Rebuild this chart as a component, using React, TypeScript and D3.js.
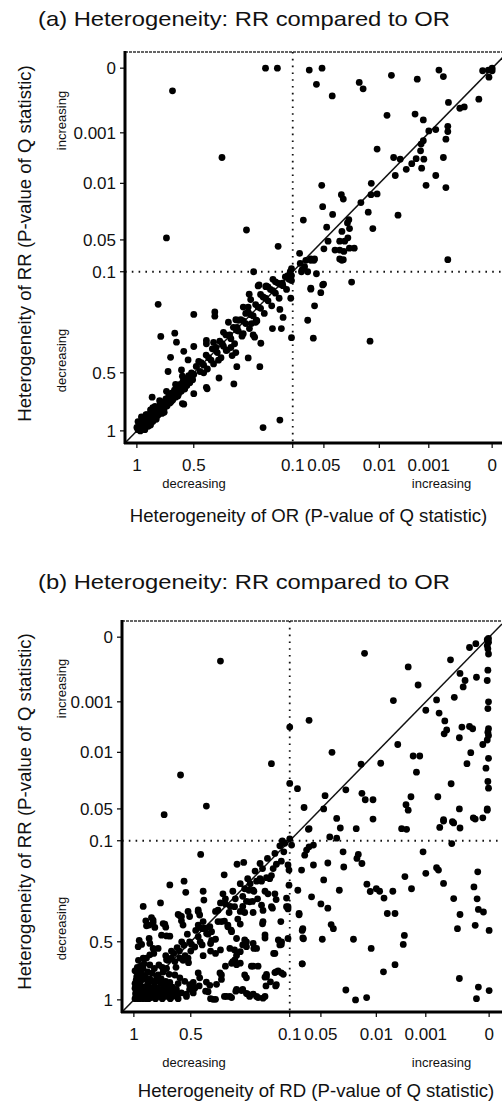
import React from "react";
import * as d3 from "d3";

// P-value axis: tick values, labels and position on the transformed (heterogeneity) scale
const P_TICKS = [1, 0.5, 0.1, 0.05, 0.01, 0.001, 0];
const TICK_LABELS = ["1", "0.5", "0.1", "0.05", "0.01", "0.001", "0"];
const TICK_SCORES = [0, 0.575, 1.575, 1.89, 2.45, 2.95, 3.59];

const TITLE_A = "(a) Heterogeneity: RR compared to OR";
const TITLE_B = "(b) Heterogeneity: RR compared to OR";
const XLABEL_A = "Heterogeneity of OR (P-value of Q statistic)";
const XLABEL_B = "Heterogeneity of RD (P-value of Q statistic)";
const YLABEL = "Heterogeneity of RR (P-value of Q statistic)";

// Panel (a): [P of OR, P of RR]
const panelATop: [number, number][] = [
  [0.21, 0], [0.162, 0], [0.0735, 0.00003], [0.053, 0], [0.062, 0.00025], [0.044, 0.00043],
  [0.0245, 0.00022], [0.0217, 0.00032], [0.0078, 0.00011], [0.0031, 0.00017], [0.00084, 0.00003],
  [0.00077, 0.00013], [0.00069, 0.00053], [0.00021, 0.00048], [0.00015, 0.00004], [0.00006, 0.00003],
  [0, 0.00004], [0.00005, 0.00014], [0, 0], [0.00044, 0.0006], [0.00051, 0.00062], [0.0086, 0.00073],
  [0.0035, 0.00071], [0.002, 0.0008], [0.001, 0.00097], [0.00089, 0.00095], [0.0007, 0.0009],
  [0.0007, 0.00098], [0.00073, 0.00213], [0.002, 0.0024], [0.0024, 0.003], [0.0025, 0.0042],
  [0.0033, 0.0056], [0.0019, 0.0057], [0.0041, 0.0065], [0.0051, 0.0075], [0.0023, 0.0073],
  [0.0062, 0.0057], [0.0074, 0.0054], [0.0071, 0.0086], [0.00077, 0.0054], [0.00089, 0.0086],
  [0.0015, 0.0114], [0.00073, 0.013], [0.0116, 0.0039], [0.0158, 0.01], [0.0116, 0.0175],
  [0.016, 0.018], [0.0374, 0.018], [0.036, 0.0211], [0.0233, 0.0236], [0.0535, 0.0114],
  [0.052, 0.0265], [0.0437, 0.032], [0.032, 0.0357], [0.033, 0.038], [0.018, 0.0304],
  [0.0147, 0.042], [0.0066, 0.0325], [0.083, 0.036], [0.048, 0.041], [0.037, 0.044],
  [0.0315, 0.042], [0.047, 0.052], [0.0386, 0.052], [0.035, 0.052], [0.0327, 0.0485],
  [0.05, 0.064], [0.042, 0.066], [0.0386, 0.066], [0.0356, 0.068], [0.0316, 0.063],
  [0.0281, 0.063], [0.0386, 0.08], [0.036, 0.081], [0.089, 0.071], [0.065, 0.08], [0.071, 0.08],
  [0.081, 0.092], [0.086, 0.1], [0.105, 0.095], [0.062, 0.108], [0.03, 0.141], [0.0007, 0.081],
  [0.258, 0.1], [0.287, 0.043], [0.159, 0.06], [0.386, 0.0054], [0.687, 0.00035], [0.74, 0.0486],
];

const panelAScatter: [number, number][] = [
  [0.236, 0.152], [0.209, 0.159], [0.142, 0.145], [0.119, 0.125], [0.105, 0.135], [0.071, 0.165],
  [0.052, 0.152], [0.088, 0.087], [0.079, 0.082], [0.071, 0.082], [0.066, 0.082], [0.085, 0.097],
  [0.076, 0.1], [0.0505, 0.149], [0.071, 0.169], [0.055, 0.183], [0.065, 0.235], [0.076, 0.292],
  [0.067, 0.363], [0.0167, 0.375], [0.037, 0.082], [0.813, 0.229], [0.79, 0.356], [0.5, 0.269],
  [0.415, 0.259], [0.415, 0.276], [0.667, 0.343], [0.652, 0.379], [0.704, 0.439], [0.726, 0.495],
  [0.608, 0.489], [0.588, 0.415], [0.55, 0.449], [0.5, 0.396], [0.449, 0.385], [0.446, 0.638],
  [0.5, 0.68], [0.588, 0.77], [0.866, 0.71], [0.398, 0.545], [0.338, 0.596], [0.369, 0.412],
  [0.345, 0.432], [0.326, 0.476], [0.28, 0.441], [0.229, 0.383], [0.233, 0.476], [0.254, 0.359],
  [0.182, 0.325], [0.146, 0.325], [0.139, 0.281], [0.152, 0.249], [0.105, 0.361], [0.108, 0.205],
  [0.22, 0.972], [0.152, 0.907], [0.276, 0.189], [0.24, 0.156], [0.207, 0.156], [0.29, 0.265],
  [0.267, 0.305], [0.247, 0.292], [0.32, 0.292], [0.327, 0.332], [0.449, 0.372], [0.6, 0.765],
  [0.449, 0.625],
];

const panelABand: [number, number][] = [
  [0.99, 0.99], [0.985, 0.965], [0.965, 0.985], [0.97, 0.95], [0.95, 0.97], [0.96, 0.93],
  [0.94, 0.945], [0.93, 0.965], [0.945, 0.91], [0.925, 0.925], [0.91, 0.945], [0.92, 0.895],
  [0.9, 0.91], [0.885, 0.93], [0.895, 0.87], [0.875, 0.89], [0.86, 0.905], [0.87, 0.85],
  [0.85, 0.865], [0.835, 0.885], [0.845, 0.82], [0.825, 0.84], [0.81, 0.86], [0.82, 0.8],
  [0.8, 0.815], [0.785, 0.835], [0.795, 0.775], [0.775, 0.79], [0.76, 0.81], [0.77, 0.75],
  [0.75, 0.765], [0.735, 0.785], [0.745, 0.725], [0.725, 0.74], [0.71, 0.76], [0.72, 0.7],
  [0.7, 0.715], [0.685, 0.735], [0.695, 0.675], [0.675, 0.69], [0.66, 0.71], [0.67, 0.65],
  [0.65, 0.665], [0.635, 0.685], [0.645, 0.625], [0.625, 0.64], [0.61, 0.66], [0.62, 0.6],
  [0.6, 0.615], [0.585, 0.635], [0.595, 0.575], [0.575, 0.59], [0.56, 0.61], [0.57, 0.55],
  [0.55, 0.565], [0.535, 0.585], [0.545, 0.525], [0.525, 0.54], [0.51, 0.56], [0.52, 0.5],
  [0.5, 0.515], [0.97, 1.0], [1.0, 0.97], [0.93, 0.99], [0.99, 0.92], [0.9, 0.96], [0.96, 0.88],
  [0.88, 0.95], [0.92, 0.86], [0.83, 0.9], [0.86, 0.8], [0.76, 0.84], [0.8, 0.74], [0.7, 0.75],
  [0.74, 0.66], [0.64, 0.7], [0.66, 0.6], [0.58, 0.64], [0.6, 0.53],
  [0.975, 0.975], [0.955, 0.955], [0.935, 0.93], [0.915, 0.91], [0.895, 0.9], [0.875, 0.87],
  [0.855, 0.845], [0.835, 0.83], [0.815, 0.82], [0.79, 0.8], [0.765, 0.77], [0.74, 0.745],
  [0.715, 0.72], [0.69, 0.7], [0.665, 0.67], [0.64, 0.655], [0.615, 0.625], [0.59, 0.6],
  [0.565, 0.57], [0.54, 0.55], [0.515, 0.525], [0.98, 0.94], [0.94, 0.98], [0.95, 0.9],
  [0.9, 0.94], [0.91, 0.86], [0.86, 0.92], [0.88, 0.82], [0.82, 0.87], [0.84, 0.79], [0.78, 0.85],
  [0.49, 0.475], [0.475, 0.495], [0.48, 0.455], [0.46, 0.47], [0.445, 0.485], [0.45, 0.43],
  [0.43, 0.45], [0.42, 0.465], [0.425, 0.405], [0.405, 0.42], [0.39, 0.44], [0.395, 0.375],
  [0.38, 0.395], [0.365, 0.41], [0.37, 0.35], [0.35, 0.365], [0.335, 0.385], [0.34, 0.32],
  [0.32, 0.335], [0.305, 0.355], [0.31, 0.29], [0.29, 0.305], [0.275, 0.325], [0.28, 0.26],
  [0.26, 0.275], [0.245, 0.295], [0.25, 0.23], [0.23, 0.245], [0.215, 0.265], [0.22, 0.2],
  [0.2, 0.215], [0.185, 0.235], [0.19, 0.17], [0.17, 0.185], [0.155, 0.205], [0.16, 0.145],
  [0.14, 0.155], [0.125, 0.17], [0.13, 0.12], [0.115, 0.13], [0.105, 0.115], [0.11, 0.1],
  [0.3, 0.24], [0.27, 0.21], [0.36, 0.3], [0.2, 0.16], [0.33, 0.42], [0.26, 0.35], [0.42, 0.38],
  [0.18, 0.13], [0.47, 0.46], [0.44, 0.44], [0.41, 0.4], [0.385, 0.385], [0.355, 0.35],
  [0.325, 0.32], [0.3, 0.295], [0.27, 0.27], [0.24, 0.24], [0.21, 0.205], [0.18, 0.175],
  [0.15, 0.15], [0.12, 0.115], [0.46, 0.5], [0.4, 0.45], [0.35, 0.4], [0.3, 0.345], [0.25, 0.3],
  [0.38, 0.34], [0.33, 0.29], [0.28, 0.24], [0.23, 0.19], [0.17, 0.14],
];

// Panel (b): [P of RD, P of RR]
const panelBTop: [number, number][] = [
  [0.38, 0.00037], [0.0185, 0.00025], [0.0042, 0.00046], [0.0024, 0.00074], [0.00061, 0.00035],
  [0.00046, 0.00056], [0.00031, 0.00016], [0.00021, 0.0001], [0.00038, 0.00067], [0.00041, 0.00077],
  [0.0002, 0.00062], [0.00055, 0.00093], [0.00002, 0.00005], [0.00001, 0.00008], [0.00003, 0.00013],
  [0.00002, 0.00018], [0.00001, 0.00026], [0.00002, 0.00051], [0.00003, 0.00067], [0.00001, 0.001],
  [0.00002, 0.0022], [0.00001, 0.0058], [0.00002, 0.0064], [0.00001, 0.007], [0.00003, 0.0078],
  [0.00001, 0.0142], [0.00002, 0.0306], [0.00001, 0.0353], [0.00003, 0.05], [0.00001, 0.00002],
  [0.00003, 0.00004], [0.00005, 0.0212], [0.0001, 0.0086], [0.00029, 0.0102], [0.00035, 0.018],
  [0.00043, 0.0055], [0.00031, 0.0054], [0.00026, 0.0058], [0.0007, 0.0044], [0.00067, 0.006],
  [0.00071, 0.0067], [0.00079, 0.003], [0.00047, 0.0074], [0.00083, 0.00097], [0.001, 0.0025],
  [0.0006, 0.0322], [0.00081, 0.0414], [0.00047, 0.05], [0.00025, 0.064], [0.0001, 0.064],
  [0.00022, 0.066], [0.00072, 0.067], [0.00058, 0.07], [0.0069, 0.00098], [0.0061, 0.0086],
  [0.0033, 0.0126], [0.0021, 0.0126], [0.0027, 0.024], [0.0037, 0.0414], [0.0046, 0.047],
  [0.0042, 0.052], [0.0092, 0.0177], [0.021, 0.0184], [0.0204, 0.039], [0.018, 0.0435],
  [0.0124, 0.0435], [0.042, 0.01], [0.047, 0.0406], [0.0386, 0.065], [0.032, 0.0365], [0.048, 0.05],
  [0.077, 0.049], [0.0876, 0.0357], [0.069, 0.0043], [0.1, 0.0055], [0.1, 0.032], [0.174, 0.018],
  [0.59, 0.026], [0.437, 0.048], [0.734, 0.059],
];

const panelBMiddle: [number, number][] = [
  [0.036, 0.08], [0.0245, 0.081], [0.0124, 0.066], [0.0054, 0.081], [0.0045, 0.082], [0.00078, 0.079],
  [0.00072, 0.069], [0.00056, 0.072], [0.00046, 0.08], [0.00003, 0.052], [0.00059, 0.111],
  [0.0015, 0.144], [0.001, 0.229], [0.00083, 0.207], [0.0008, 0.216], [0.00072, 0.269],
  [0.00056, 0.329], [0.00046, 0.392], [0.0005, 0.448], [0.00022, 0.435], [0.00017, 0.372],
  [0.00009, 0.382], [0.00019, 0.33], [0.00024, 0.283], [0.00018, 0.223], [0, 0.455], [0.00047, 0.816],
  [0.00017, 0.89], [0, 0.92], [0.0002, 0.99], [0.0048, 0.242], [0.0036, 0.29], [0.0049, 0.475],
  [0.0051, 0.523], [0.0066, 0.697], [0.0087, 0.759], [0.008, 0.388], [0.0066, 0.388], [0.0086, 0.327],
  [0.01, 0.29], [0.0094, 0.3], [0.0168, 0.272], [0.0144, 0.301], [0.007, 0.3], [0.0137, 0.557],
  [0.0265, 0.49], [0.032, 0.915], [0.025, 1.0], [0.017, 0.98], [0.0204, 0.19], [0.024, 0.17],
  [0.023, 0.154], [0.034, 0.144], [0.0335, 0.204], [0.0367, 0.296], [0.0436, 0.094], [0.0386, 0.096],
  [0.0426, 0.432], [0.041, 0.448], [0.045, 0.188], [0.045, 0.367], [0.05, 0.35], [0.049, 0.49],
  [0.048, 0.255], [0.065, 0.322], [0.062, 0.196], [0.076, 0.157], [0.073, 0.137], [0.069, 0.124],
  [0.062, 0.117], [0.07, 0.082], [0.069, 0.081], [0.081, 0.216], [0.087, 0.296], [0.085, 0.393],
  [0.079, 0.448], [0.079, 0.485], [0.08, 0.69], [0.107, 0.487], [0.107, 0.37], [0.113, 0.327],
  [0.103, 0.276], [0.103, 0.216], [0.107, 0.196], [0.124, 0.144], [0.13, 0.101], [0.1, 0.097],
  [0.097, 0.117],
];

const panelBLower: [number, number][] = [
  [0.136, 0.42], [0.14, 0.527], [0.134, 0.523], [0.157, 0.88], [0.165, 0.6], [0.155, 0.759],
  [0.134, 0.767], [0.194, 0.8], [0.17, 0.367], [0.155, 0.333], [0.16, 0.31], [0.188, 0.31],
  [0.181, 0.25], [0.208, 0.376], [0.21, 0.429], [0.2, 0.485], [0.21, 0.21], [0.22, 0.25],
  [0.234, 0.26], [0.248, 0.296], [0.262, 0.342], [0.282, 0.384], [0.248, 0.384], [0.275, 0.5],
  [0.29, 0.527], [0.245, 0.557], [0.255, 0.71], [0.282, 0.786], [0.275, 0.81], [0.2, 0.805],
  [0.196, 0.88], [0.178, 0.845], [0.154, 0.87], [0.248, 0.95], [0.228, 0.98], [0.2, 0.97],
  [0.29, 0.91], [0.27, 0.95], [0.318, 0.925], [0.356, 0.97], [0.335, 0.98], [0.42, 0.99],
  [0.4, 0.995], [0.44, 0.925], [0.376, 0.786], [0.322, 0.655], [0.315, 0.618], [0.3, 0.585],
  [0.335, 0.685], [0.36, 0.71], [0.4, 0.6], [0.42, 0.515], [0.416, 0.495], [0.376, 0.42],
  [0.35, 0.44], [0.335, 0.46], [0.31, 0.41], [0.3, 0.43], [0.315, 0.487], [0.38, 0.57],
  [0.37, 0.31], [0.36, 0.35], [0.345, 0.384], [0.38, 0.346], [0.39, 0.375], [0.29, 0.36],
  [0.275, 0.34], [0.313, 0.193], [0.286, 0.186], [0.365, 0.235], [0.46, 0.154], [0.282, 0.29],
  [0.265, 0.296], [0.245, 0.3], [0.214, 0.26], [0.194, 0.246], [0.174, 0.238], [0.167, 0.21],
  [0.154, 0.193], [0.134, 0.181], [0.684, 0.275], [0.559, 0.26], [0.544, 0.304], [0.766, 0.346],
  [0.918, 0.36], [0.45, 0.3], [0.447, 0.335], [0.47, 0.38], [0.524, 0.38], [0.596, 0.397],
  [0.582, 0.417], [0.568, 0.434], [0.845, 0.404], [0.831, 0.424], [0.816, 0.443], [0.895, 0.417],
  [0.889, 0.437], [0.728, 0.43], [0.757, 0.474], [0.713, 0.477], [0.684, 0.478], [0.953, 0.495],
  [0.962, 0.542], [0.932, 0.523], [0.866, 0.487], [0.86, 0.514], [0.831, 0.557], [0.825, 0.6],
  [0.787, 0.557], [0.48, 0.455], [0.466, 0.443], [0.453, 0.448], [0.44, 0.446], [0.47, 0.48],
  [0.462, 0.5], [0.454, 0.527], [0.51, 0.5], [0.497, 0.523], [0.484, 0.545], [0.918, 0.64],
  [0.889, 0.64], [0.86, 0.612], [0.713, 0.655], [0.67, 0.64], [0.64, 0.67], [0.596, 0.64],
  [0.568, 0.66], [0.524, 0.64], [0.787, 0.786], [0.743, 0.76], [0.713, 0.73], [0.64, 0.786],
  [0.596, 0.81], [0.553, 0.84], [0.611, 0.86], [0.684, 0.85], [0.51, 0.87], [0.484, 0.9],
  [0.466, 0.88], [0.626, 0.91], [0.582, 0.94], [0.538, 0.95], [0.831, 0.414], [0.866, 0.434],
  [0.743, 0.428], [0.72, 0.442], [0.611, 0.392], [0.582, 0.4], [0.51, 0.4], [0.47, 0.374],
  [0.464, 0.394], [0.423, 0.44], [0.416, 0.46], [0.47, 0.434], [0.45, 0.447], [0.436, 0.467],
  [0.364, 0.418], [0.35, 0.434], [0.337, 0.454], [0.323, 0.361], [0.3, 0.38], [0.342, 0.557],
  [0.323, 0.57], [0.282, 0.493], [0.275, 0.542], [0.248, 0.514], [0.234, 0.557], [0.214, 0.355],
  [0.174, 0.361], [0.113, 0.361], [0.208, 0.42], [0.2, 0.473], [0.16, 0.6], [0.146, 0.493],
  [0.133, 0.5], [0.08, 0.455], [0.078, 0.488], [0.08, 0.69], [0.107, 0.361], [0.085, 0.388],
  [0.248, 0.71], [0.228, 0.71], [0.33, 0.67], [0.315, 0.697], [0.3, 0.684], [0.382, 0.768],
  [0.376, 0.824], [0.396, 0.866], [0.437, 0.847], [0.423, 0.875], [0.43, 0.93], [0.41, 0.995],
  [0.364, 0.97], [0.342, 0.97], [0.315, 0.91], [0.295, 0.92], [0.275, 0.945], [0.262, 0.97],
  [0.234, 0.97], [0.208, 0.985], [0.194, 0.78], [0.16, 0.765], [0.147, 0.75], [0.126, 0.78],
  [0.47, 0.768], [0.464, 0.81], [0.49, 0.85], [0.51, 0.91], [0.49, 0.94], [0.538, 0.97],
  [0.625, 0.96], [0.611, 0.99], [0.45, 0.42], [0.4, 0.38], [0.36, 0.33], [0.33, 0.3],
  [0.3, 0.27], [0.27, 0.25], [0.24, 0.22], [0.22, 0.19], [0.19, 0.17], [0.16, 0.15], [0.14, 0.12],
  [0.12, 0.11], [0.43, 0.47], [0.39, 0.42], [0.34, 0.36], [0.32, 0.33], [0.29, 0.32], [0.26, 0.27],
  [0.25, 0.34], [0.2, 0.3], [0.23, 0.33], [0.4, 0.49], [0.6, 0.58], [0.56, 0.53], [0.65, 0.6],
  [0.7, 0.66], [0.75, 0.72], [0.62, 0.55], [0.53, 0.47], [0.58, 0.5], [0.67, 0.58], [0.72, 0.62],
  [0.63, 0.72], [0.55, 0.62], [0.5, 0.58], [0.52, 0.68], [0.45, 0.62], [0.42, 0.58],
];

const panelBCluster: [number, number][] = [
  [0.99, 0.99], [0.98, 0.96], [0.97, 0.93], [0.99, 0.9], [0.96, 0.99], [0.95, 0.95], [0.94, 0.91],
  [0.97, 0.87], [0.93, 0.98], [0.92, 0.94], [0.91, 0.89], [0.95, 0.84], [0.9, 0.97], [0.89, 0.92],
  [0.88, 0.87], [0.93, 0.81], [0.87, 0.99], [0.86, 0.95], [0.85, 0.9], [0.9, 0.79], [0.84, 0.97],
  [0.83, 0.93], [0.82, 0.88], [0.86, 0.82], [0.81, 0.99], [0.8, 0.95], [0.79, 0.9], [0.84, 0.77],
  [0.78, 0.97], [0.77, 0.92], [0.76, 0.86], [0.8, 0.8], [0.75, 0.99], [0.74, 0.94], [0.73, 0.89],
  [0.76, 0.82], [0.72, 0.97], [0.71, 0.91], [0.7, 0.96], [0.69, 0.88], [0.98, 0.83], [0.96, 0.79],
  [0.99, 0.75], [0.97, 0.72], [0.94, 0.76], [0.92, 0.73], [0.88, 0.76], [0.68, 0.99], [0.67, 0.93],
  [0.66, 0.97], [0.98, 0.98], [0.95, 0.99], [0.92, 0.99], [0.89, 0.99], [0.96, 0.96], [0.93, 0.95],
  [0.9, 0.93], [0.87, 0.91], [0.85, 0.98], [0.82, 0.96], [0.985, 0.945], [0.965, 0.905],
  [0.945, 0.865], [0.925, 0.825], [0.975, 0.8], [0.955, 0.77], [0.91, 0.96], [0.88, 0.94],
  [0.84, 0.92], [0.8, 0.9], [0.77, 0.97], [0.74, 0.9], [0.7, 0.93], [0.87, 0.85], [0.83, 0.84],
  [0.79, 0.84], [0.905, 0.82], [0.99, 0.86], [0.94, 0.71], [0.91, 0.69], [0.86, 0.7], [0.82, 0.73],
  [0.78, 0.7], [0.96, 0.66], [0.72, 0.84], [0.66, 0.89], [0.63, 0.95], [0.69, 0.78],
];

const FONT = "'Liberation Sans', Arial, Helvetica, sans-serif";

type PanelCfg = {
  left: number;
  top: number;
  bottom: number;
  right: number;
  title: string;
  titleBaseline: number;
  xLabel: string;
  xLabelCenter: number;
  xLabelBaseline: number;
  tickBaseline: number;
  subBaseline: number;
  yMid: number;
};

const toScore = d3.scaleLinear().domain(P_TICKS).range(TICK_SCORES);

function Panel({ cfg, points }: { cfg: PanelCfg; points: [number, number][] }) {
  const x = d3.scaleLinear().domain([-0.12, 3.72]).range([cfg.left, cfg.left + 380]);
  const y = d3.scaleLinear().domain([-0.12, 3.75]).range([cfg.bottom, cfg.top]);
  const px = (p: number) => x(toScore(p));
  const py = (p: number) => y(toScore(p));
  const x01 = px(0.1);
  const y01 = py(0.1);
  const lineGen = d3.line<[number, number]>().x((d) => x(d[0])).y((d) => y(d[1]));
  const diag = lineGen([[-0.12, -0.12], [3.72, 3.72]]);
  return (
    <g fontFamily={FONT} fill="#111">
      <text x={38} y={cfg.titleBaseline} fontSize={21} textLength={412} lengthAdjust="spacingAndGlyphs">
        {cfg.title}
      </text>
      <line x1={cfg.left} x2={cfg.right} y1={cfg.top} y2={cfg.top} stroke="#333" strokeWidth={1.4} strokeDasharray="3,1" />
      <line x1={x01} x2={x01} y1={cfg.top} y2={cfg.bottom} stroke="#111" strokeWidth={1.8} strokeDasharray="1.6,5.2" />
      <line x1={cfg.left} x2={cfg.right} y1={y01} y2={y01} stroke="#111" strokeWidth={1.8} strokeDasharray="1.6,5.2" />
      <path d={diag || ""} stroke="#111" strokeWidth={1.5} fill="none" />
      {points.map((d, i) => (
        <circle key={i} cx={px(d[0])} cy={py(d[1])} r={3.4} fill="#000" />
      ))}
      <line x1={cfg.left} x2={cfg.left} y1={cfg.top - 1} y2={cfg.bottom + 1} stroke="#000" strokeWidth={3} />
      <line x1={cfg.left - 1} x2={cfg.right} y1={cfg.bottom} y2={cfg.bottom} stroke="#000" strokeWidth={3} />
      {P_TICKS.map((p, i) => (
        <g key={"y" + i}>
          <line x1={cfg.left - 5} x2={cfg.left} y1={py(p)} y2={py(p)} stroke="#000" strokeWidth={1.2} />
          <text x={cfg.left - 9} y={py(p)} dy="0.36em" textAnchor="end" fontSize={17}>
            {TICK_LABELS[i]}
          </text>
        </g>
      ))}
      {P_TICKS.map((p, i) => (
        <g key={"x" + i}>
          <line x1={px(p)} x2={px(p)} y1={cfg.bottom} y2={cfg.bottom + 5} stroke="#000" strokeWidth={1.2} />
          <text x={px(p)} y={cfg.tickBaseline} textAnchor="middle" fontSize={17}>
            {TICK_LABELS[i]}
          </text>
        </g>
      ))}
      <text x={194} y={cfg.subBaseline} textAnchor="middle" fontSize={13}>decreasing</text>
      <text x={441.5} y={cfg.subBaseline} textAnchor="middle" fontSize={13}>increasing</text>
      <text x={cfg.xLabelCenter} y={cfg.xLabelBaseline} textAnchor="middle" fontSize={18.6}>
        {cfg.xLabel}
      </text>
      <text transform={`translate(31,${cfg.yMid}) rotate(-90)`} textAnchor="middle" fontSize={18.6}>
        {YLABEL}
      </text>
      <text transform={`translate(66,${cfg.yMid - 123}) rotate(-90)`} textAnchor="middle" fontSize={13}>
        increasing
      </text>
      <text transform={`translate(66,${cfg.yMid + 117}) rotate(-90)`} textAnchor="middle" fontSize={13}>
        decreasing
      </text>
    </g>
  );
}

const cfgA: PanelCfg = {
  left: 125, top: 52, bottom: 443, right: 502, title: TITLE_A, titleBaseline: 26,
  xLabel: XLABEL_A, xLabelCenter: 308.5, xLabelBaseline: 522, tickBaseline: 471, subBaseline: 488,
  yMid: 243.5,
};
const cfgB: PanelCfg = {
  left: 122, top: 621, bottom: 1012, right: 502, title: TITLE_B, titleBaseline: 589,
  xLabel: XLABEL_B, xLabelCenter: 316, xLabelBaseline: 1097, tickBaseline: 1040, subBaseline: 1067,
  yMid: 811.5,
};

export default function App() {
  const pointsA = [...panelABand, ...panelAScatter, ...panelATop];
  const pointsB = [...panelBCluster, ...panelBLower, ...panelBMiddle, ...panelBTop];
  return (
    <svg width={502} height={1104} style={{ position: "absolute", left: 0, top: 0, background: "#fff" }}>
      <rect x={0} y={0} width={502} height={1104} fill="#fff" />
      <Panel cfg={cfgA} points={pointsA} />
      <Panel cfg={cfgB} points={pointsB} />
    </svg>
  );
}
